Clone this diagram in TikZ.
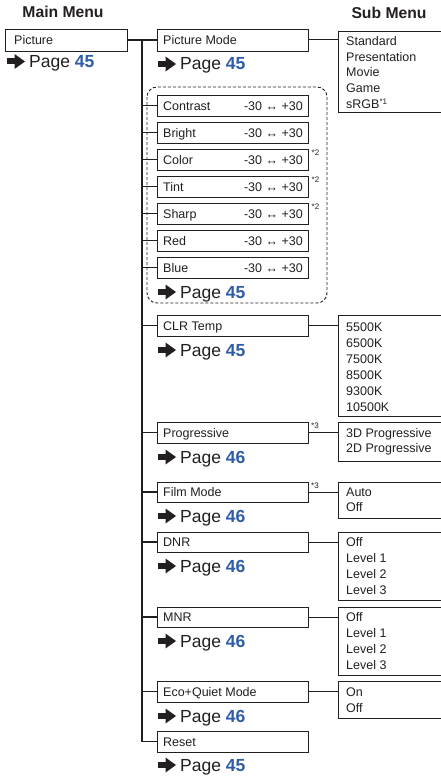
\documentclass[tikz,border=0pt]{standalone}
\usepackage{fontspec}
\setmainfont{Liberation Sans}
\definecolor{ink}{HTML}{231F20}
\definecolor{pgblue}{HTML}{2F5DAA}
\newcommand\fz[1]{\fontsize{#1}{#1}\selectfont}
\tikzset{
  itemb/.style={draw=ink, line width=0.95pt, minimum width=151, inner sep=0, outer sep=0},
  mainb/.style={draw=ink, line width=0.95pt, minimum width=122, minimum height=22, inner sep=0, outer sep=0},
  subb/.style={draw=ink, line width=0.85pt, minimum width=120, inner sep=0, outer sep=0},
  lbl/.style={anchor=base west, inner sep=0, text=ink, font=\fz{12.5}},
  sublbl/.style={anchor=base west, inner sep=0, text=ink, font=\fz{12.5}},
  val/.style={anchor=base east, inner sep=0, text=ink, font=\fz{12.5}},
  supmark/.style={anchor=base west, inner sep=0, text=ink, font=\fz{8}},
  pgtxt/.style={anchor=base west, inner sep=0, text=ink, font=\fz{17.5}},
  title/.style={inner sep=0, text=ink, font=\fz{15.7}\bfseries},
  conn/.style={draw=ink, line width=1pt},
  trunk/.style={draw=ink, line width=1.4pt},
  dashbox/.style={draw=ink, line width=0.9pt, dash pattern=on 3pt off 2pt, rounded corners=10pt},
  parrow/.style={fill=ink, draw=none}
}
\newcommand\itembox[4]{%
  \node[itemb, minimum height={#3-#2}, anchor=north west] (#1) at (157,#2) {};
  \node[lbl] (#1-t) at ([xshift=6pt,yshift=-4.5pt]#1.west) {#4};
}
\newcommand\slider[1]{%
  \node[val] (#1-v) at ([xshift=-5pt,yshift=-4.5pt]#1.east) {-30 ↔ +30};
}
\newcommand\subbox[3]{%
  \node[subb, minimum height={#3-#2}, anchor=north west] (#1) at (338,#2) {};
}
\newcommand\subitems[4]{%
  \foreach \t [count=\i from 0] in {#4} {\node[sublbl] (#1-\i) at (346,{#2+#3*\i}) {\t};}
}
\newcommand\pgline[4]{%
  \fill[parrow] (#2,#3-9) rectangle (#2+8.5,#3-3);
  \fill[parrow] (#2+7.5,#3-13.5) -- (#2+18,#3-6) -- (#2+7.5,#3+1.5) -- cycle;
  \node[pgtxt] (#1) at (#2+22,#3) {Page \textbf{\color{pgblue}#4}};
}
\begin{document}
\begin{tikzpicture}[x=1pt,y=-1pt]
\useasboundingbox (0,0) rectangle (441,776);
\fill[white] (0,0) rectangle (441,776);

% titles
\node[title] (mt) at (63,12) {Main Menu};
\node[title] (st) at (389,13) {Sub Menu};

% main menu
\node[mainb, anchor=north west] (pic) at (5,29) {};
\node[lbl] (pic-t) at ([xshift=9pt,yshift=-4.5pt]pic.west) {Picture};
\pgline{pg0}{7}{67.5}{45}

% dashed group
\draw[dashbox] (147,87) rectangle (327,303);

% item boxes
\itembox{pm}{29}{51}{Picture Mode}
\itembox{con}{95}{116}{Contrast}
\itembox{bri}{122}{143}{Bright}
\itembox{col}{149}{170}{Color}
\itembox{tin}{176}{197}{Tint}
\itembox{sha}{203}{224}{Sharp}
\itembox{red}{230}{251}{Red}
\itembox{bl}{257}{278}{Blue}
\itembox{clr}{315}{336}{CLR Temp}
\itembox{pro}{422}{443}{Progressive}
\itembox{fil}{482}{502}{Film Mode}
\itembox{dnr}{532}{552}{DNR}
\itembox{mnr}{607}{627}{MNR}
\itembox{eco}{681}{702}{Eco+Quiet Mode}
\itembox{rs}{731}{752}{Reset}

\foreach \n in {con,bri,col,tin,sha,red,bl} {\slider{\n}}

% superscript notes
\node[supmark] (n-col) at ([xshift=3.5pt,yshift=-6.5pt]col.north east) {*2};
\node[supmark] (n-tin) at ([xshift=3.5pt,yshift=-6.5pt]tin.north east) {*2};
\node[supmark] (n-sha) at ([xshift=3.5pt,yshift=-6.5pt]sha.north east) {*2};
\node[supmark] (n-pro) at ([xshift=3pt,yshift=-6.5pt]pro.north east) {*3};
\node[supmark] (n-fil) at ([xshift=3pt,yshift=-6.5pt]fil.north east) {*3};

% page references
\pgline{pg1}{158}{70}{45}
\pgline{pg2}{158}{298}{45}
\pgline{pg3}{158}{356}{45}
\pgline{pg4}{158}{463}{46}
\pgline{pg5}{158}{522}{46}
\pgline{pg6}{158}{572}{46}
\pgline{pg7}{158}{647}{46}
\pgline{pg8}{158}{722}{46}
\pgline{pg9}{158}{771}{45}

% sub menus
\subbox{s1}{31}{112}
\subitems{s1}{45.5}{15.75}{Standard,Presentation,Movie,Game,{sRGB\raisebox{4.5pt}{\fz{8}*1}}}
\subbox{s2}{315}{416}
\subitems{s2}{331.5}{16}{5500K,6500K,7500K,8500K,9300K,10500K}
\subbox{s3}{422}{461}
\subitems{s3}{437.5}{15.3}{3D Progressive,2D Progressive}
\subbox{s4}{482}{518}
\subitems{s4}{496.5}{15.3}{Auto,Off}
\subbox{s5}{532}{600}
\subitems{s5}{546.5}{15.9}{Off,Level 1,Level 2,Level 3}
\subbox{s6}{607}{675}
\subitems{s6}{621.5}{15.9}{Off,Level 1,Level 2,Level 3}
\subbox{s7}{681}{718}
\subitems{s7}{696.5}{15.5}{On,Off}

% connectors
\coordinate (tk) at (142,0);
\draw[trunk] (pic.east) -- (pic.east -| pm.west);
\draw[trunk] (tk |- pic.east) -- (tk |- rs.west);
\foreach \n in {con,bri,col,tin,sha,red,bl,clr,pro,fil,dnr,mnr,eco,rs} {\draw[trunk] (tk |- \n.west) -- (\n.west);}
\draw[conn] (pm.east) -- (pm.east -| s1.west);
\draw[conn] (clr.east) -- (clr.east -| s2.west);
\draw[conn] (pro.east) -- (pro.east -| s3.west);
\draw[conn] (fil.east) -- (fil.east -| s4.west);
\draw[conn] (dnr.east) -- (dnr.east -| s5.west);
\draw[conn] (mnr.east) -- (mnr.east -| s6.west);
\draw[conn] (eco.east) -- (eco.east -| s7.west);
\end{tikzpicture}
\end{document}
